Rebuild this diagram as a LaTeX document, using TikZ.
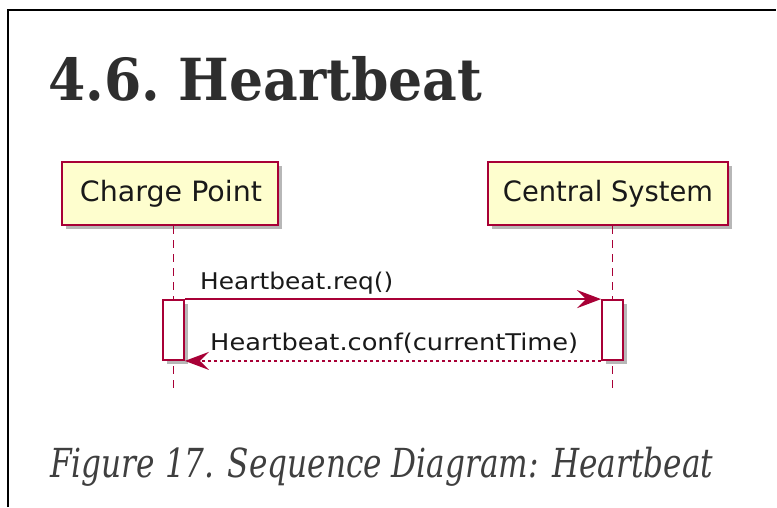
\documentclass[tikz,border=0pt]{standalone}
\usepackage{fontspec}
\usepackage{graphicx}
\setmainfont{DejaVu Serif}
\newfontfamily\umlfont{DejaVu Sans}
\usetikzlibrary{arrows.meta,shadows}
\definecolor{umlred}{HTML}{A80036}
\definecolor{umlfill}{HTML}{FEFECE}
\definecolor{titlegray}{HTML}{2E2E2E}
\definecolor{capgray}{HTML}{3F3F3F}
\newcommand{\fitw}[2]{\resizebox{#1}{\height}{#2}}
\begin{document}
\begin{tikzpicture}[x=1pt,y=-1pt,
  umlshadow/.style={drop shadow={shadow xshift=4pt,shadow yshift=-4pt,opacity=0.4,fill=black!70}},
  participant/.style={draw=umlred,line width=2pt,fill=umlfill,minimum height=63pt,inner sep=0pt,umlshadow},
  activation/.style={draw=umlred,line width=1.8pt,fill=white,minimum width=21pt,inner sep=0pt,umlshadow},
  lifeline/.style={draw=umlred,line width=1.5pt,dash pattern=on 8pt off 6pt},
  msg/.style={draw=umlred,line width=1.8pt,-{Stealth[length=24pt,width=18pt,inset=9pt]}},
  reply/.style={msg,dash pattern=on 3pt off 3pt},
  msglabel/.style={anchor=base west,inner sep=0pt,text=black!90,font=\umlfont\fontsize{23}{26}\selectfont},
  plabel/.style={font=\umlfont\fontsize{28}{32}\selectfont,text=black!90}
]
\useasboundingbox (0,0) rectangle (777,507);
\fill[white] (0,0) rectangle (777,507);
\draw[line width=2pt] (8,507) -- (8,10) -- (776,10);

% title and caption
\node[anchor=base west,inner sep=0pt,text=titlegray,font=\bfseries\fontsize{58}{64}\selectfont] (title) at (48,100) {\fitw{434pt}{4.6.\hspace{-0.12em} Heartbeat}};
\node[anchor=base west,inner sep=0pt,text=capgray,font=\itshape\fontsize{40}{44}\selectfont] (caption) at (50,477) {\fitw{663pt}{Figure 17. Sequence Diagram: Heartbeat}};

% participants
\node[participant,minimum width=216pt] (cp) at (170,193.5) {};
\node[plabel] (cptext) at (171,193.5) {\fitw{182pt}{Charge Point}};
\node[participant,minimum width=240pt] (cs) at (608,193.5) {};
\node[plabel] (cstext) at (608,193.5) {\fitw{210pt}{Central System}};

% lifeline ends
\coordinate (cpend) at (173.5,392);
\coordinate (csend) at (612.5,392);
\draw[lifeline] (cp.south -| cpend) -- (cpend);
\draw[lifeline] (cs.south -| csend) -- (csend);

% activations
\node[activation,minimum height=60pt] (cpact) at (173.5,330) {};
\node[activation,minimum height=60pt] (csact) at (612.5,330) {};

% messages
\draw[msg] (cpact.north east) -- (csact.north west);
\draw[reply] (csact.south west) -- (cpact.south east);
\node[msglabel] (m1) at (200,289) {\fitw{193pt}{Heartbeat.req()}};
\node[msglabel] (m2) at (210,350) {\fitw{368pt}{Heartbeat.conf(currentTime)}};
\end{tikzpicture}
\end{document}
